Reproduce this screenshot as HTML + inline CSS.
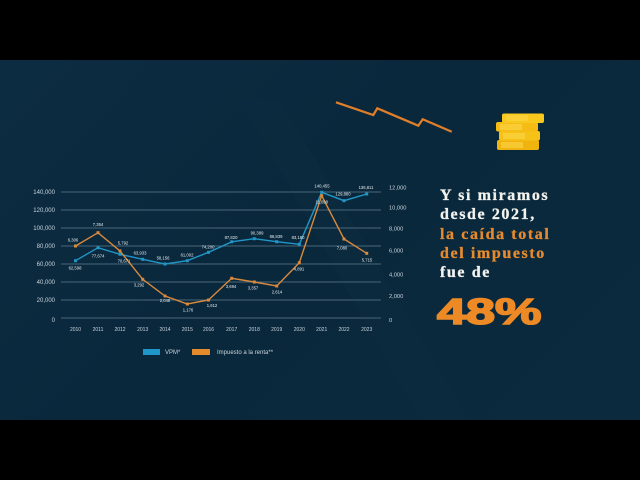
<!DOCTYPE html>
<html>
<head>
<meta charset="utf-8">
<style>
html,body{margin:0;padding:0;background:#000;}
body{width:640px;height:480px;position:relative;overflow:hidden;font-family:"Liberation Sans",sans-serif;}
#bg{position:absolute;left:0;top:60px;width:640px;height:360px;background:linear-gradient(135deg,#0c2c42 0%,#0a283c 45%,#0b2a3e 100%);overflow:hidden;}
.txt{position:absolute;left:440px;top:186px;font-family:"Liberation Serif",serif;font-weight:bold;font-size:16px;line-height:19.3px;letter-spacing:1.6px;color:#f2f2ee;-webkit-text-stroke:0.3px #f2f2ee;}
.txt .o{color:#e58a2e;-webkit-text-stroke:0.3px #e58a2e;}
.big{position:absolute;left:437px;top:290px;font-family:"Liberation Sans",sans-serif;font-weight:bold;font-size:36px;color:#ee8a25;-webkit-text-stroke:1.6px #ee8a25;transform:scaleX(1.45);transform-origin:0 0;line-height:44px;}
</style>
</head>
<body>
<div id="bg">
<svg width="640" height="360" style="position:absolute;left:0;top:0">
<path d="M240 40 L420 360 L470 360 L280 40Z" fill="#0e3047" opacity="0.2"/>
</svg>
</div>
<svg width="640" height="480" style="position:absolute;left:0;top:0" font-family="Liberation Sans, sans-serif">
<g stroke="#5f7b8e" stroke-width="0.8">
<line x1="61" y1="192" x2="381" y2="192"/>
<line x1="61" y1="210" x2="381" y2="210"/>
<line x1="61" y1="228" x2="381" y2="228"/>
<line x1="61" y1="246" x2="381" y2="246"/>
<line x1="61" y1="264" x2="381" y2="264"/>
<line x1="61" y1="282" x2="381" y2="282"/>
<line x1="61" y1="300" x2="381" y2="300"/>
<line x1="61" y1="318" x2="381" y2="318"/>
</g>
<g fill="#c9d4dc" font-size="6" text-anchor="end">
<text x="55" y="194">140,000</text>
<text x="55" y="212">120,000</text>
<text x="55" y="230">100,000</text>
<text x="55" y="248">80,000</text>
<text x="55" y="266">60,000</text>
<text x="55" y="284">40,000</text>
<text x="55" y="302">20,000</text>
<text x="55" y="322">0</text>
</g>
<g fill="#c9d4dc" font-size="5.7" text-anchor="start">
<text x="389" y="189.5">12,000</text>
<text x="389" y="209.5">10,000</text>
<text x="389" y="230.5">8,000</text>
<text x="389" y="252.5">6,000</text>
<text x="389" y="276.5">4,000</text>
<text x="389" y="298">2,000</text>
<text x="389" y="322">0</text>
</g>
<g fill="#c9d4dc" font-size="5" text-anchor="middle">
<text x="75.5" y="331">2010</text>
<text x="98" y="331">2011</text>
<text x="120" y="331">2012</text>
<text x="142.7" y="331">2013</text>
<text x="165" y="331">2014</text>
<text x="187.3" y="331">2015</text>
<text x="208.5" y="331">2016</text>
<text x="231.7" y="331">2017</text>
<text x="254.3" y="331">2018</text>
<text x="276.7" y="331">2019</text>
<text x="299.3" y="331">2020</text>
<text x="321.7" y="331">2021</text>
<text x="344" y="331">2022</text>
<text x="366.7" y="331">2023</text>
</g>
<polyline fill="none" stroke="#2196c6" stroke-width="1.4" points="75.5,260.7 98,247.7 120,254.3 142.7,259.3 165,264 187.3,260.7 208.5,252.3 231.7,241.8 254.3,238.7 276.7,241.7 299.3,244.3 321.7,192.3 344,200.7 366.7,194"/>
<g fill="#2196c6">
<rect x="74" y="259.2" width="3" height="3"/><rect x="96.5" y="246.2" width="3" height="3"/><rect x="118.5" y="252.8" width="3" height="3"/><rect x="141.2" y="257.8" width="3" height="3"/><rect x="163.5" y="262.5" width="3" height="3"/><rect x="185.8" y="259.2" width="3" height="3"/><rect x="207" y="250.8" width="3" height="3"/><rect x="230.2" y="240.3" width="3" height="3"/><rect x="252.8" y="237.2" width="3" height="3"/><rect x="275.2" y="240.2" width="3" height="3"/><rect x="297.8" y="242.8" width="3" height="3"/><rect x="320.2" y="190.8" width="3" height="3"/><rect x="342.5" y="199.2" width="3" height="3"/><rect x="365.2" y="192.5" width="3" height="3"/>
</g>
<polyline fill="none" stroke="#d98a3c" stroke-width="1.4" points="75.5,246 98,232.7 120,251 142.7,279.3 165,296 187.3,304 208.5,300 231.7,278.3 254.3,282 276.7,286 299.3,262.7 321.7,195.7 344,239 366.7,253.3"/>
<g fill="#d98a3c">
<rect x="74" y="244.5" width="3" height="3"/><rect x="96.5" y="231.2" width="3" height="3"/><rect x="118.5" y="249.5" width="3" height="3"/><rect x="141.2" y="277.8" width="3" height="3"/><rect x="163.5" y="294.5" width="3" height="3"/><rect x="185.8" y="302.5" width="3" height="3"/><rect x="207" y="298.5" width="3" height="3"/><rect x="230.2" y="276.8" width="3" height="3"/><rect x="252.8" y="280.5" width="3" height="3"/><rect x="275.2" y="284.5" width="3" height="3"/><rect x="297.8" y="261.2" width="3" height="3"/><rect x="320.2" y="194.2" width="3" height="3"/><rect x="342.5" y="237.5" width="3" height="3"/><rect x="365.2" y="251.8" width="3" height="3"/>
</g>
<g fill="#e6ecef" font-size="4.2" text-anchor="middle">
<text x="75" y="269.5">62,598</text>
<text x="98" y="257.5">77,674</text>
<text x="124" y="262.5">70,671</text>
<text x="140" y="254.5">63,933</text>
<text x="163" y="259.5">58,156</text>
<text x="187" y="256.5">61,002</text>
<text x="208" y="248.5">74,200</text>
<text x="231" y="239">87,820</text>
<text x="257" y="234.5">90,389</text>
<text x="276" y="238">86,839</text>
<text x="298" y="239">83,180</text>
<text x="322" y="187.5">140,455</text>
<text x="343" y="195.5">129,880</text>
<text x="366" y="189">136,811</text>
<text x="73" y="241.5">6,306</text>
<text x="98" y="226">7,354</text>
<text x="123" y="244.5">5,792</text>
<text x="139" y="286.5">3,292</text>
<text x="165" y="302">2,048</text>
<text x="188" y="311.5">1,176</text>
<text x="212" y="307">1,612</text>
<text x="231" y="288">3,694</text>
<text x="253" y="289.5">3,357</text>
<text x="277" y="293.5">2,614</text>
<text x="299" y="270.5">4,891</text>
<text x="321.7" y="203.5">11,098</text>
<text x="342" y="249.5">7,080</text>
<text x="367" y="261.5">5,715</text>
</g>
<rect x="143" y="349" width="17" height="6" fill="#1e97c8"/>
<text x="165" y="354" font-size="6" fill="#c9d4dc">VPM*</text>
<rect x="192" y="349" width="18" height="6" fill="#e38a2c"/>
<text x="217" y="354" font-size="6" fill="#c9d4dc">Impuesto a la renta**</text>
<polyline fill="none" stroke="#e07f2a" stroke-width="2.2" stroke-linejoin="miter" points="336,102.3 373.3,115 377.3,108.3 418.3,125.7 422.7,119.3 451.7,131.7"/>
<g>
<rect x="497" y="140" width="42" height="10" rx="2" fill="#f1b40f"/>
<rect x="499" y="131" width="41" height="9.5" rx="2" fill="#f6c218"/>
<rect x="496" y="122" width="42" height="9.5" rx="2" fill="#f4bc14"/>
<rect x="502" y="113.5" width="42" height="9.5" rx="2" fill="#f9c81d"/>
<rect x="506" y="115" width="22" height="6" fill="#fbd64a" opacity="0.6"/>
<rect x="500" y="124" width="22" height="6" fill="#fbd64a" opacity="0.6"/>
<rect x="503" y="133" width="22" height="6" fill="#fbd64a" opacity="0.6"/>
<rect x="501" y="142" width="22" height="6" fill="#fbd64a" opacity="0.6"/>
</g>
</svg>
<div class="txt">Y si miramos<br>desde 2021,<br><span class="o">la caída total<br>del impuesto</span><br>fue de</div>
<div class="big">48%</div>
</body>
</html>
